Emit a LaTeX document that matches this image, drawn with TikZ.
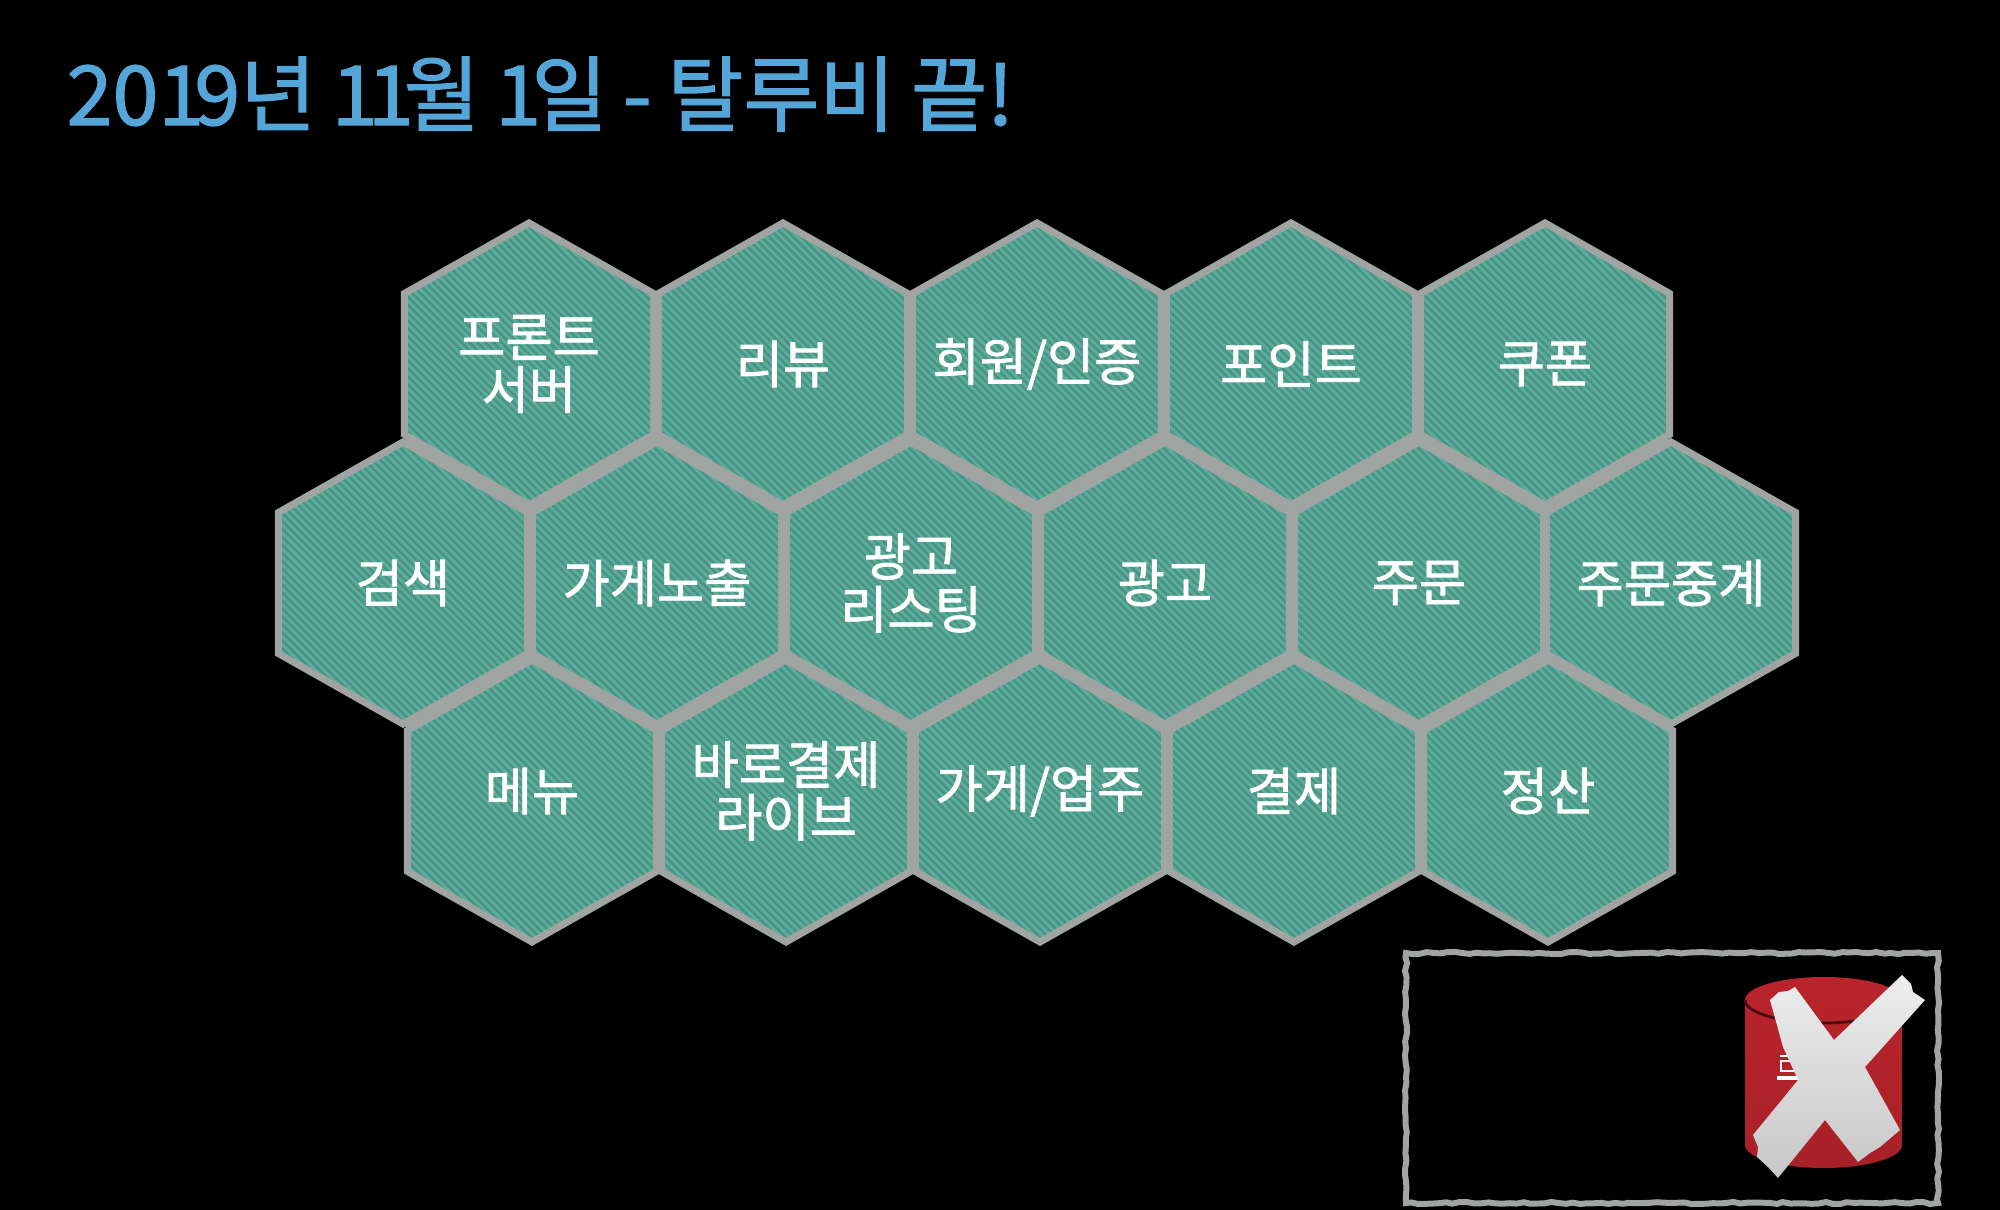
\documentclass[tikz,border=0pt]{standalone}
\usepackage{fontspec}
\setmainfont{Noto Sans CJK KR}
\newfontfamily\mediumfont{Noto Sans CJK KR}[FakeBold=1.5,WordSpace=.85]
\usepackage{tikz}
\usetikzlibrary{shapes.geometric,patterns.meta,decorations.pathmorphing}
\definecolor{titleblue}{RGB}{84,166,216}
\definecolor{hexteal}{RGB}{94,172,156}
\definecolor{hexstripe}{RGB}{72,148,132}
\definecolor{hexwall}{RGB}{160,165,163}
\definecolor{dbred}{RGB}{186,36,44}
\tikzset{
  hexcell/.style={regular polygon,regular polygon sides=6,shape border rotate=30,
    minimum size=2.82cm,inner sep=0pt,xscale=1.02,transform shape,
    draw=hexwall,line width=2pt,
    preaction={fill=hexteal},
    preaction={pattern={Lines[angle=-45,distance=1.6pt,line width=.7pt]},pattern color=hexstripe}},
  hextext/.style={text=white,align=center,inner sep=0pt,font=\fontsize{14.6}{15}\selectfont\mediumfont}
}

\begin{document}
\begin{tikzpicture}[scale=1.0]
  % ── Background ──
  \useasboundingbox (0,0) rectangle (20,12.09);
  \fill[black] (-0.1,-0.1) rectangle (20.1,12.19);

  % ── Title ──
  \node[titleblue,font=\fontsize{23.5}{26}\selectfont\mediumfont,anchor=base west,inner sep=0pt] (title) at (0.66,10.84)
    {201\kern-.12em 9년 1\kern-.12em 1\kern-.12em 월 1\kern-.12em 일 - 탈루비 끝!};

  % ── Wall colour behind the cells ──
  \fill[hexwall] (4.06,7.72) -- (5.29,8.45) -- (15.45,8.45) -- (16.68,7.72) -- (16.71,6.26) -- (16.68,4.82)
        -- (15.48,4.08) -- (5.32,4.08) -- (4.06,4.82) -- (4.03,6.26) -- cycle;

  % ── Top row ──
  \node[hexcell,label={[hextext]center:{프론트\\서버}}] (front) at (5.29,8.45) {};
  \node[hexcell,label={[hextext]center:리뷰}] (review) at (7.83,8.45) {};
  \node[hexcell,label={[hextext]center:회원/인증}] (member) at (10.37,8.45) {};
  \node[hexcell,label={[hextext]center:포인트}] (point) at (12.91,8.45) {};
  \node[hexcell,label={[hextext]center:쿠폰}] (coupon) at (15.45,8.45) {};

  % ── Middle row ──
  \node[hexcell,label={[hextext]center:검색}] (search) at (4.03,6.26) {};
  \node[hexcell,label={[hextext]center:가게노출}] (shopexpo) at (6.57,6.26) {};
  \node[hexcell,label={[hextext]center:{광고\\리스팅}}] (adlist) at (9.11,6.26) {};
  \node[hexcell,label={[hextext]center:광고}] (ad) at (11.65,6.26) {};
  \node[hexcell,label={[hextext]center:주문}] (order) at (14.19,6.26) {};
  \node[hexcell,label={[hextext]center:주문중계}] (relay) at (16.71,6.26) {};

  % ── Bottom row ──
  \node[hexcell,label={[hextext,yshift=1mm]center:메뉴}] (menu) at (5.32,4.08) {};
  \node[hexcell,label={[hextext,yshift=1mm]center:{바로결제\\라이브}}] (livepay) at (7.86,4.08) {};
  \node[hexcell,label={[hextext,yshift=1mm]center:가게/업주}] (shop) at (10.40,4.08) {};
  \node[hexcell,label={[hextext,yshift=1mm]center:결제}] (pay) at (12.94,4.08) {};
  \node[hexcell,label={[hextext,yshift=1mm]center:정산}] (settle) at (15.48,4.08) {};

  % ── Rough box ──
  \pgfmathsetseed{7}
  \draw[hexwall,line width=1.7pt,decorate,decoration={random steps,segment length=2pt,amplitude=.3pt}]
        (14.06,0.06) rectangle (19.38,2.56);

  % ── Red cylinder ──
  \path[top color=dbred,bottom color=dbred!90!black]
        (17.45,2.09) arc[start angle=180,end angle=0,x radius=0.785,y radius=0.23]
        -- (19.02,0.64) arc[start angle=0,end angle=-180,x radius=0.785,y radius=0.23] -- cycle;
  \draw[black!60!dbred,line width=.8pt] (17.45,2.09) arc[start angle=180,end angle=360,x radius=0.785,y radius=0.23];

  % ── Hidden label marks ──
  \fill[white] (17.77,1.33) rectangle (18.05,1.29);
  \draw[white,line width=.6pt] (17.81,1.38) rectangle (18.05,1.48);
  \fill[white] (17.80,1.54) rectangle (17.88,1.52);

  % ── White cross ──
  \shade[top color=black!7,bottom color=black!22]
        (19.02,2.34) -- (19.11,2.25) -- (19.13,2.17) -- (19.25,2.09) -- (18.65,1.42) -- (19.00,0.79)
        -- (18.80,0.62) -- (18.70,0.56) -- (18.58,0.47) -- (18.25,0.89) -- (17.78,0.31)
        -- (17.68,0.42) -- (17.57,0.52) -- (17.58,0.62) -- (17.53,0.74) -- (17.98,1.29)
        -- (17.83,1.62) -- (17.70,2.09) -- (17.79,2.17) -- (17.88,2.18) -- (17.95,2.22) -- (18.34,1.69) -- cycle;
\end{tikzpicture}
\end{document}
